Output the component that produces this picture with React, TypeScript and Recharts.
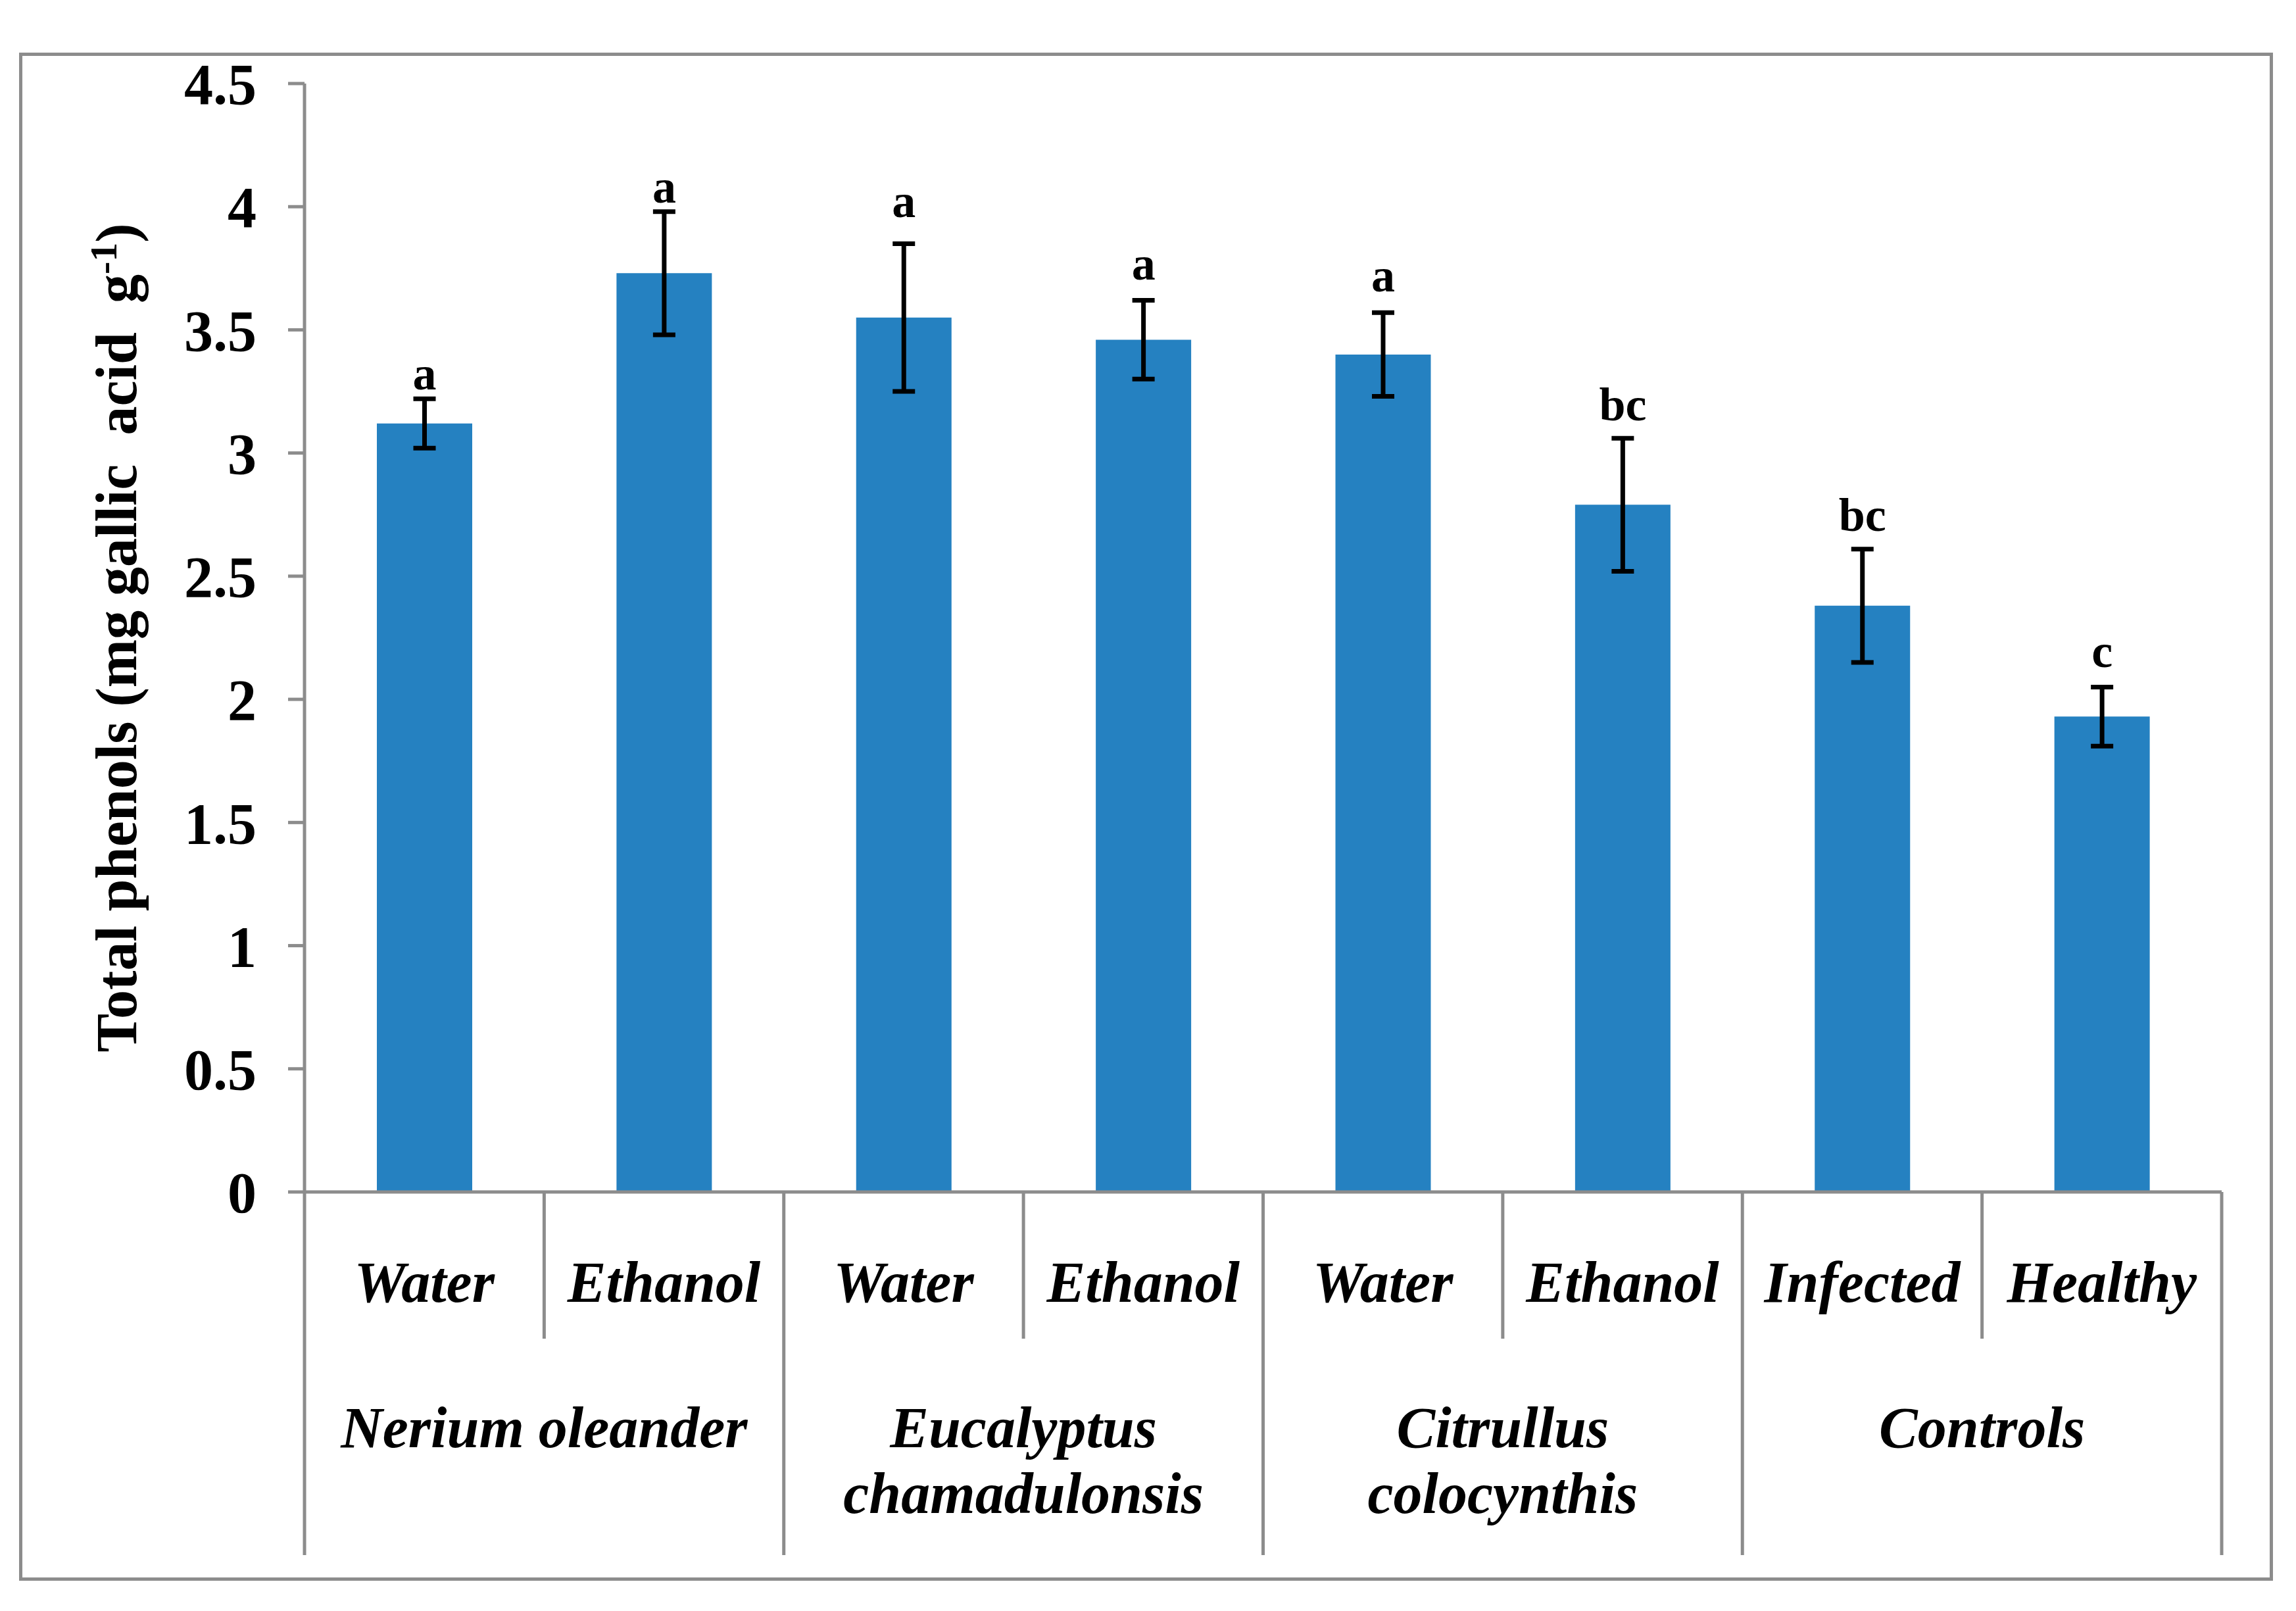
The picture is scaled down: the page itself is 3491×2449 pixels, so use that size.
import React from 'react';
import { BarChart, Bar, XAxis, YAxis, ErrorBar, LabelList, Label } from 'recharts';

const categories = ['Water', 'Ethanol', 'Water', 'Ethanol', 'Water', 'Ethanol', 'Infected', 'Healthy'];
const groupOf = [0, 0, 1, 1, 2, 2, 3, 3];
const groups = [['Nerium oleander'], ['Eucalyptus', 'chamadulonsis'], ['Citrullus', 'colocynthis'], ['Controls']];
const phenols = [3.12, 3.73, 3.55, 3.46, 3.4, 2.79, 2.38, 1.93];
const errors = [0.1, 0.25, 0.3, 0.16, 0.17, 0.27, 0.23, 0.12];
const letters = ['a', 'a', 'a', 'a', 'a', 'bc', 'bc', 'c'];
const yTicks = [0, 0.5, 1, 1.5, 2, 2.5, 3, 3.5, 4, 4.5];

const data = categories.map((c, i) => ({
  key: `${groups[groupOf[i]][0]}-${c}`,
  value: phenols[i],
  err: errors[i],
  letter: letters[i],
}));

const W = 3491;
const H = 2449;
const FONT = "'Liberation Serif', 'Times New Roman', serif";
const GREY = '#8c8c8c';
const BLUE = '#2581c1';
const margin = { top: 127, right: 113, left: 263, bottom: 40 };
const BAND = (W - margin.left - margin.right) / categories.length;
// gap (px) between the error cap and the letter baseline, as placed in the original
const letterGap = [14, 14, 40, 32, 32, 27, 28, 30];

function CategoryTick(props: any) {
  const { x, y, payload } = props;
  const i = payload.index;
  const half = payload.offset || BAND / 2;
  const lastInGroup = i === categories.length - 1 || groupOf[i + 1] !== groupOf[i];
  const lines = groups[groupOf[i]];
  return (
    <g>
      <text x={x} y={y + 167} textAnchor="middle" fontFamily={FONT} fontSize={88} fontWeight="bold" fontStyle="italic" fill="#000">
        {categories[i]}
      </text>
      {i === 0 && <line x1={x - half} x2={x - half} y1={y} y2={y + 552} stroke={GREY} strokeWidth={5} />}
      <line x1={x + half} x2={x + half} y1={y} y2={y + (lastInGroup ? 552 : 223)} stroke={GREY} strokeWidth={5} />
      {lastInGroup && (
        <text x={x - half} y={y + 388} textAnchor="middle" fontFamily={FONT} fontSize={88} fontWeight="bold" fontStyle="italic" fill="#000">
          {lines.map((l, k) => (
            <tspan key={k} x={x - half} dy={k === 0 ? 0 : 100}>{l}</tspan>
          ))}
        </text>
      )}
    </g>
  );
}

function LetterLabel(props: any) {
  const { x, y, width, height, value, index } = props;
  const perUnit = height / phenols[index];
  const top = y - errors[index] * perUnit;
  return (
    <text x={x + width / 2} y={top - letterGap[index]} textAnchor="middle" fontFamily={FONT} fontSize={72} fontWeight="bold" fill="#000">
      {value}
    </text>
  );
}

function YTitle(props: any) {
  const vb = props.viewBox || {};
  const cy = vb.y + vb.height / 2;
  const bx = 207;
  return (
    <text x={bx} y={cy} transform={`rotate(-90, ${bx}, ${cy})`} textAnchor="middle" fontFamily={FONT} fontSize={88} fontWeight="bold" fill="#000">
      {'Total phenols (mg gallic \u00a0acid \u00a0g'}
      <tspan dy={-30} fontSize={58}>-1</tspan>
      <tspan dy={30}>)</tspan>
    </text>
  );
}

export default function App() {
  return (
    <div style={{ position: 'absolute', left: 0, top: 0, width: W, height: H, background: '#fff' }}>
      <div style={{ position: 'absolute', left: 29, top: 80, width: 3427, height: 2323, border: `5px solid ${GREY}`, boxSizing: 'border-box' }} />
      <div style={{ position: 'absolute', left: 0, top: 0 }}>
        <BarChart width={W} height={H} data={data} margin={margin} barSize={145}>
          <XAxis
            dataKey="key"
            height={H - margin.top - margin.bottom - 1685}
            axisLine={{ stroke: GREY, strokeWidth: 5 }}
            tickLine={false}
            tickSize={0}
            tickMargin={0}
            interval={0}
            tick={<CategoryTick />}
          />
          <YAxis
            width={200}
            domain={[0, 4.5]}
            ticks={yTicks}
            interval={0}
            axisLine={{ stroke: GREY, strokeWidth: 5 }}
            tickLine={{ stroke: GREY, strokeWidth: 5 }}
            tickSize={25}
            tickMargin={48}
            tick={{ fontFamily: FONT, fontSize: 88, fontWeight: 'bold', fill: '#000' }}
          >
            <Label content={<YTitle />} />
          </YAxis>
          <Bar dataKey="value" fill={BLUE} isAnimationActive={false}>
            <ErrorBar dataKey="err" width={17} stroke="#000" strokeWidth={7} direction="y" />
            <LabelList dataKey="letter" content={<LetterLabel />} />
          </Bar>
        </BarChart>
      </div>
    </div>
  );
}
